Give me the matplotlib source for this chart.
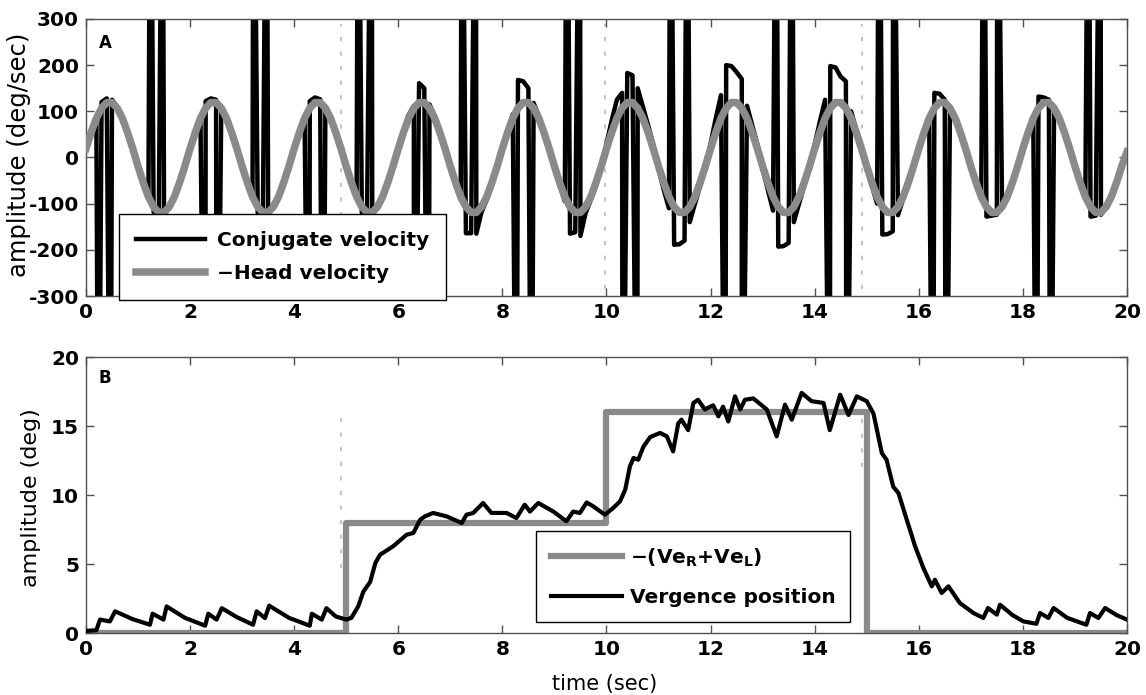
import numpy as np
import matplotlib.pyplot as plt

plt.rcParams['font.family'] = 'DejaVu Sans'
plt.rcParams['font.weight'] = 'bold'
plt.rcParams['axes.unicode_minus'] = False

# ---- panel A: velocities (deg/sec), sampled every 0.1 s from 0 to 20 s
time_grid = np.round(np.arange(201) * 0.1, 2)

head_vel = [
    19, 54, 85, 107, 119, 119, 107, 85, 54, 19, -19, -54, -85, -107, -119, -119, -107, -85, -54, -19,
    19, 54, 85, 107, 119, 119, 107, 85, 54, 19, -19, -54, -85, -107, -119, -119, -107, -85, -54, -19,
    19, 54, 85, 107, 119, 119, 107, 85, 54, 19, -19, -54, -85, -107, -119, -119, -107, -85, -54, -19,
    19, 54, 85, 107, 119, 119, 107, 85, 54, 19, -19, -54, -85, -107, -119, -119, -107, -85, -54, -19,
    19, 54, 85, 107, 119, 119, 107, 85, 54, 19, -19, -54, -85, -107, -119, -119, -107, -85, -54, -19,
    19, 54, 85, 107, 119, 119, 107, 85, 54, 19, -19, -54, -85, -107, -119, -119, -107, -85, -54, -19,
    19, 54, 85, 107, 119, 119, 107, 85, 54, 19, -19, -54, -85, -107, -119, -119, -107, -85, -54, -19,
    19, 54, 85, 107, 119, 119, 107, 85, 54, 19, -19, -54, -85, -107, -119, -119, -107, -85, -54, -19,
    19, 54, 85, 107, 119, 119, 107, 85, 54, 19, -19, -54, -85, -107, -119, -119, -107, -85, -54, -19,
    19, 54, 85, 107, 119, 119, 107, 85, 54, 19, -19, -54, -85, -107, -119, -119, -107, -85, -54, -19,
    12,
]

# slow phase of the conjugate eye velocity
conj_vel = [
    20, 55, 88, 120, 128, 125, 110, 86, 55, 20, -20, -56, -88, -118, -124, -120, -108, -86, -55, -20,
    20, 55, 88, 122, 128, 125, 110, 86, 55, 20, -20, -56, -88, -120, -124, -120, -108, -86, -55, -20,
    20, 55, 88, 122, 130, 126, 110, 86, 55, 20, -20, -56, -88, -120, -124, -120, -108, -86, -55, -20,
    20, 58, 92, 112, 161, 150, 115, 90, 58, 22, -20, -60, -92, -164, -164, -165, -118, -92, -60, -22,
    20, 58, 94, 168, 165, 150, 118, 90, 58, 22, -20, -60, -95, -165, -162, -170, -120, -92, -60, -22,
    30, 80, 125, 140, 183, 178, 150, 110, 70, 28, -25, -70, -110, -189, -188, -180, -140, -100, -62, -25,
    30, 85, 135, 200, 198, 185, 170, 112, 70, 28, -25, -70, -115, -193, -192, -185, -140, -100, -62, -25,
    28, 78, 125, 198, 195, 175, 165, 100, 60, 22, -22, -62, -100, -167, -166, -160, -125, -90, -56, -20,
    20, 55, 88, 140, 138, 125, 110, 86, 55, 20, -20, -55, -88, -128, -126, -124, -108, -86, -55, -20,
    20, 55, 88, 132, 130, 125, 110, 86, 55, 20, -20, -55, -88, -128, -126, -124, -108, -86, -55, -20,
    15,
]

# saccades: time (s) and peak velocity (off scale)
sacc_t = [0.24, 0.47, 1.24, 1.47, 2.29, 2.51, 3.22, 3.47, 4.29, 4.55,
          5.23, 5.49, 6.30, 6.58, 7.22, 7.49, 8.27, 8.56, 9.24, 9.49,
          10.31, 10.59, 11.23, 11.55, 12.28, 12.60, 13.26, 13.56, 14.29, 14.61,
          15.24, 15.51, 16.27, 16.52, 17.25, 17.51, 18.26, 18.53, 19.26, 19.49]
sacc_v = [-900, -900, 900, 900, -900, -900, 900, 900, -900, -900,
          900, 900, -900, -900, 900, 900, -900, -900, 900, 900,
          -900, -900, 900, 900, -900, -900, 900, 900, -900, -900,
          900, 900, -900, -900, 900, 900, -900, -900, 900, 900]

# vertical marker lines (s)
mark_t = [4.9, 9.97, 14.9]
mark_low_B = [4.7, 9.2, 12.0]

# ---- panel B: vergence (deg)
step_t = [0, 5, 10, 15, 20]
step_v = [0, 8, 16, 0, 0]

verg_t = [0.0, 0.2, 0.27, 0.46, 0.56, 0.9, 1.23, 1.28, 1.49, 1.55, 1.9, 2.29, 2.35, 2.51, 2.61,
          2.9, 3.21, 3.28, 3.44, 3.52, 3.9, 4.30, 4.34, 4.53, 4.62, 4.8, 5.0, 5.1, 5.23, 5.33,
          5.46, 5.56, 5.65, 5.9, 6.16, 6.29, 6.42, 6.51, 6.67, 6.93, 7.22, 7.31, 7.44, 7.63, 7.79,
          8.08, 8.27, 8.43, 8.53, 8.69, 8.98, 9.23, 9.36, 9.49, 9.62, 9.75, 9.97, 10.13, 10.26, 10.36,
          10.45, 10.52, 10.61, 10.71, 10.84, 11.03, 11.16, 11.28, 11.38, 11.44, 11.57, 11.67, 11.76,
          11.89, 12.05, 12.15, 12.24, 12.34, 12.47, 12.57, 12.66, 12.82, 13.08, 13.27, 13.43, 13.56,
          13.75, 13.94, 14.17, 14.29, 14.49, 14.65, 14.81, 15.0, 15.13, 15.29, 15.38, 15.51, 15.61,
          15.77, 15.93, 16.09, 16.25, 16.31, 16.44, 16.57, 16.79, 17.05, 17.24, 17.33, 17.50, 17.56,
          17.8, 18.01, 18.26, 18.33, 18.49, 18.59, 18.85, 19.22, 19.29, 19.45, 19.58, 19.8, 20.0]
verg_v = [0.15, 0.2, 0.97, 0.84, 1.57, 1.0, 0.6, 1.4, 0.97, 1.93, 1.1, 0.53, 1.4, 0.97, 1.8,
          1.15, 0.6, 1.57, 1.08, 1.98, 1.1, 0.53, 1.4, 0.97, 1.8, 1.2, 0.97, 1.1, 1.93, 3.0,
          3.7, 5.07, 5.67, 6.28, 7.12, 7.25, 8.2, 8.45, 8.7, 8.45, 7.97, 8.57, 8.7, 9.42, 8.7,
          8.7, 8.33, 9.3, 8.8, 9.42, 8.8, 8.1, 8.8, 8.7, 9.46, 9.17, 8.57, 9.06, 9.54, 10.38,
          12.07, 12.68, 12.56, 13.5, 14.2, 14.5, 14.25, 13.16, 15.2, 15.46, 14.7, 16.67, 16.9,
          16.2, 16.5, 15.7, 16.4, 15.33, 17.15, 16.2, 16.9, 17.0, 16.2, 14.25, 16.55, 15.46,
          17.4, 16.8, 16.67, 14.7, 17.27, 15.8, 17.15, 16.8, 15.9, 13.04, 12.56, 10.6, 10.14,
          8.2, 6.28, 4.7, 3.38, 3.86, 2.9, 3.38, 2.17, 1.45, 1.09, 1.81, 1.33, 2.05,
          1.3, 0.84, 0.67, 1.45, 1.09, 1.81, 1.1, 0.6, 1.45, 1.09, 1.81, 1.3, 0.97]

GRAY = '#8a8a8a'
SPINE = '#505050'

# merge saccade spikes into the slow-phase trace
all_t = np.concatenate([time_grid, sacc_t])
all_v = np.concatenate([conj_vel, sacc_v])
order = np.argsort(all_t, kind='stable')
conj_t_full = all_t[order]
conj_v_full = all_v[order]

fig = plt.figure(figsize=(11.46, 6.95), dpi=100)
axA = fig.add_axes([0.0750, 0.5741, 0.9084, 0.3986])
axB = fig.add_axes([0.0750, 0.0892, 0.9084, 0.3971])


def style_axes(ax):
    ax.tick_params(direction='in', top=True, right=True, length=6, width=1,
                   colors=SPINE, labelcolor='black', labelsize=14.5, pad=5)
    for sp in ax.spines.values():
        sp.set_color(SPINE)
        sp.set_linewidth(1.0)
    ax.set_xlim(0, 20)
    ax.set_xticks(np.arange(0, 21, 2))


# ---- panel A
for t in mark_t:
    axA.plot([t, t], [-285, 290], color='#c4c4c4', lw=1.5, ls=(0, (2, 5)), zorder=1)
lc, = axA.plot(conj_t_full, conj_v_full, color='black', lw=3.2, zorder=2)
lh, = axA.plot(time_grid, head_vel, color=GRAY, lw=5.4, zorder=3)
style_axes(axA)
axA.set_ylim(-300, 300)
axA.set_yticks(np.arange(-300, 301, 100))
axA.set_ylabel('amplitude (deg/sec)', fontsize=17.5, fontweight='normal')
axA.yaxis.set_label_coords(-0.053, 0.509)
axA.text(0.012, 0.895, 'A', transform=axA.transAxes, fontsize=12, fontweight='bold')
legA = axA.legend([lc, lh], ['Conjugate velocity', '\u2212Head velocity'],
                  loc='lower left', bbox_to_anchor=(0.0317, -0.014), borderaxespad=0,
                  fontsize=14.5, frameon=True, fancybox=False, framealpha=1,
                  edgecolor='black', handlelength=3.4, handletextpad=0.6,
                  borderpad=0.85, labelspacing=0.7)
legA.get_frame().set_linewidth(1.0)
legA.set_zorder(5)

# ---- panel B
for t, lo in zip(mark_t, mark_low_B):
    axB.plot([t, t], [lo, 16.0], color='#c4c4c4', lw=1.5, ls=(0, (2, 5)), zorder=1)
ls_, = axB.step(step_t, step_v, where='post', color=GRAY, lw=4.5, zorder=2)
lv, = axB.plot(verg_t, verg_v, color='black', lw=3.0, zorder=3)
style_axes(axB)
axB.set_ylim(0, 20)
axB.set_yticks([0, 5, 10, 15, 20])
axB.set_ylabel('amplitude (deg)', fontsize=16, fontweight='normal')
axB.yaxis.set_label_coords(-0.043, 0.49)
axB.set_xlabel('time (sec)', fontsize=15, fontweight='normal')
axB.xaxis.set_label_coords(0.498, -0.149)
axB.text(0.012, 0.905, 'B', transform=axB.transAxes, fontsize=12, fontweight='bold')
legB = axB.legend([ls_, lv], ['\u2212(Ve$_\\mathbf{R}$+Ve$_\\mathbf{L}$)', 'Vergence position'],
                  loc='lower left', bbox_to_anchor=(0.4323, 0.04), borderaxespad=0,
                  fontsize=14.5, frameon=True, fancybox=False, framealpha=1,
                  edgecolor='black', handlelength=3.5, handletextpad=0.4,
                  borderpad=0.75, labelspacing=0.95)
legB.get_frame().set_linewidth(1.0)
legB.set_zorder(5)

fig.savefig('out.png', dpi=100, facecolor='white')
